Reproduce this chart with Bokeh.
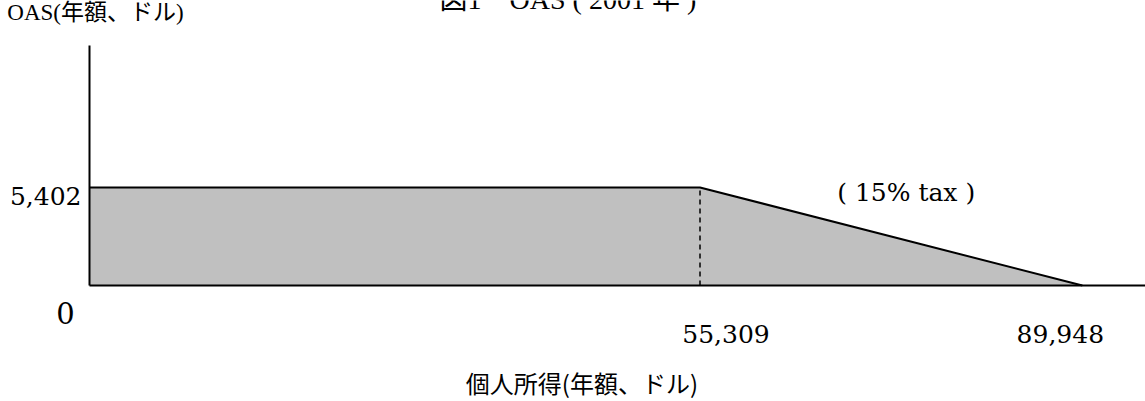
from bokeh.plotting import figure
from bokeh.models import Range1d
from bokeh.core.properties import value
from bokeh.embed import file_html
from bokeh.resources import INLINE

# ---- data ----
income_breaks = [0, 55309, 89948]          # personal income (annual, $)
oas_values = [5402, 5402, 0]               # OAS benefit (annual, $)
clawback_start = 55309
x_tick_values = [55309, 89948]
x_tick_labels = ["55,309", "89,948"]
y_tick_value = 5402
y_tick_label = "5,402"
zero_label = "0"
rate_label = "( 15% tax )"
title_text = "図1　OAS ( 2001 年 )"
x_title = "個人所得(年額、ドル)"
y_title = "OAS(年額、ドル)"

# ---- layout scale ----
W, H = 1145, 401
PX_PER_X = 0.011038
PX_PER_Y = 0.018141
ORIGIN_PX = 89
ORIGIN_PY = 285
X_LO = -ORIGIN_PX / PX_PER_X
X_HI = X_LO + W / PX_PER_X
Y_HI = ORIGIN_PY / PX_PER_Y
Y_LO = Y_HI - H / PX_PER_Y
AXIS_TOP = Y_HI - 45 / PX_PER_Y

p = figure(width=W, height=H, x_range=Range1d(X_LO, X_HI), y_range=Range1d(Y_LO, Y_HI),
           output_backend="svg", toolbar_location=None,
           x_axis_location=None, y_axis_location=None,
           min_border=0, outline_line_color=None, title=None)
p.xgrid.visible = False
p.ygrid.visible = False

# shaded benefit area
p.patch([0] + income_breaks, [0] + oas_values, fill_color="#c0c0c0", line_color=None)
p.line(income_breaks, oas_values, line_color="black", line_width=2)
p.segment(x0=[clawback_start], y0=[0], x1=[clawback_start], y1=[oas_values[1]],
          line_color="black", line_width=1.5, line_dash="5 4")

# axes
p.segment(x0=[0], y0=[0], x1=[0], y1=[AXIS_TOP], line_color="black", line_width=2)
p.segment(x0=[0], y0=[0], x1=[X_HI], y1=[0], line_color="black", line_width=2)

serif = value("DejaVu Serif")
mixed = value("Liberation Serif, Noto Sans CJK JP")
gothic = value("Noto Sans CJK JP")

p.text(x=[0], y=[y_tick_value], text=[y_tick_label], text_align="right",
       text_baseline="middle", x_offset=-8, y_offset=8, text_font=serif,
       text_font_size="25px", text_color="black")
p.text(x=[0], y=[0], text=[zero_label], text_align="center", text_baseline="middle",
       x_offset=-24, y_offset=27, text_font=serif, text_font_size="29px", text_color="black")
p.text(x=[x_tick_values[0]], y=[0], text=[x_tick_labels[0]], text_align="center",
       text_baseline="middle", x_offset=26, y_offset=48, text_font=serif,
       text_font_size="25px", text_color="black")
p.text(x=[x_tick_values[1]], y=[0], text=[x_tick_labels[1]], text_align="center",
       text_baseline="middle", x_offset=-22, y_offset=48, text_font=serif,
       text_font_size="25px", text_color="black")

x_mid = (income_breaks[1] + income_breaks[2]) / 2
p.text(x=[x_mid], y=[oas_values[0]], text=[rate_label], text_align="center",
       text_baseline="middle", x_offset=15, y_offset=5, text_font=serif,
       text_font_size="25px", text_color="black")

axis_mid = income_breaks[-1] / 2
p.text(x=[axis_mid], y=[0], text=[x_title], text_align="center", text_baseline="middle",
       x_offset=-4, y_offset=97, text_font=gothic, text_font_size="24px", text_color="black")
p.text(x=[0], y=[AXIS_TOP], text=[y_title], text_align="center", text_baseline="middle",
       x_offset=6, y_offset=-33, text_font=mixed, text_font_size="23px", text_color="black")
p.text(x=[axis_mid], y=[AXIS_TOP], text=[title_text], text_align="center",
       text_baseline="alphabetic", x_offset=-18, y_offset=-46, text_font=mixed,
       text_font_size="28px", text_color="black")

open("out.html", "w").write(file_html(p, INLINE))
